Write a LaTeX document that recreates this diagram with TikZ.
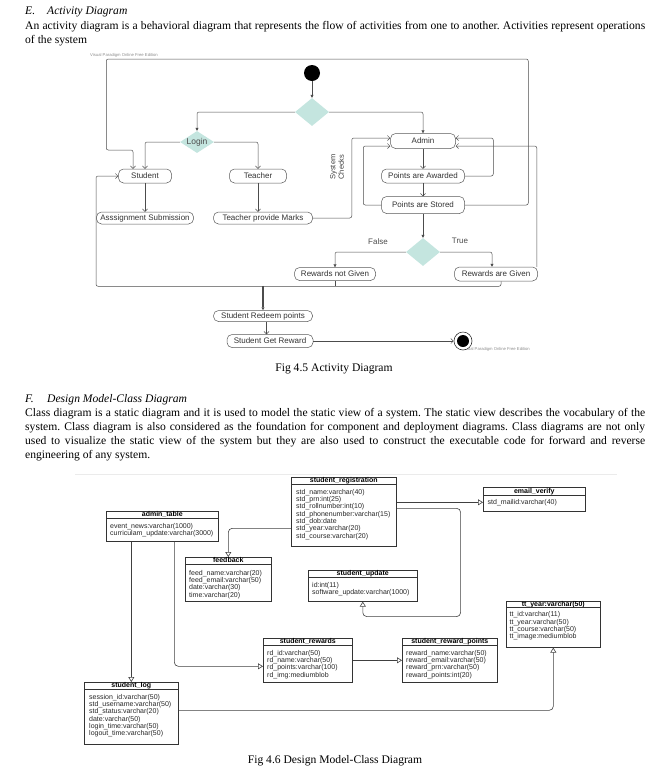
\documentclass[tikz,border=0pt]{standalone}
\usepackage{fontspec}
\setmainfont{Liberation Serif}
\newfontfamily\arial{Liberation Sans}
\usetikzlibrary{arrows.meta,shapes.geometric}
\definecolor{vpteal}{HTML}{C4E5DF}
\frenchspacing
\begin{document}
\begin{tikzpicture}[x=1pt, y=-1pt,
  body/.style={font=\fontsize{11.6}{14}\selectfont, inner sep=0pt, anchor=base west},
  watermark/.style={font=\arial\fontsize{4.2}{5}\selectfont, text=black!45, inner sep=0pt, anchor=west},
  act/.style={draw=black!65, rounded corners=5pt, line width=0.5pt, fill=white, inner sep=0pt, font=\arial\fontsize{8}{9}\selectfont, text=black!80},
  decision/.style={shape=diamond, draw=none, fill=vpteal, inner sep=0pt},
  flow/.style={draw=black!70, line width=0.5pt, rounded corners=2pt},
  oa/.style={flow, -{Straight Barb[length=2.5pt,width=5pt]}},
  fa/.style={flow, -{Triangle[length=3pt,width=3pt]}},
  cls/.style={draw=black!80, line width=0.6pt, inner sep=0pt},
  clsname/.style={font=\arial\bfseries\fontsize{7}{7.3}\selectfont, inner sep=0pt, anchor=base},
  clsattr/.style={font=\arial\fontsize{7}{7.3}\selectfont, align=left, inner sep=0pt, text=black!85, anchor=north west},
  gen/.style={draw=black!75, line width=0.6pt, rounded corners=4pt, -{Triangle[open, length=5pt, width=6pt]}}]
\useasboundingbox (0,0) rectangle (659,772);
%%%%%%%%%%%%%%%%%%%%%%%%%%%%%%%%%%%%%%%%%%% page text
\node[body] (headE) at (25,14) {\textit{\makebox[22pt][l]{E.}Activity Diagram}};
\node[body] (paraE1) at (25,29) {\makebox[620pt][s]{An activity diagram is a behavioral diagram that represents the flow of activities from one to another. Activities represent operations}};
\node[body] (paraE2) at (25,43) {of the system};
\node[body, anchor=base] (capE) at (334,371) {Fig 4.5 Activity Diagram};
\node[body] (headF) at (25,402) {\textit{\makebox[22pt][l]{F.}Design Model-Class Diagram}};
\node[body] (paraF1) at (25,416) {\makebox[620pt][s]{Class diagram is a static diagram and it is used to model the static view of a system. The static view describes the vocabulary of the}};
\node[body] (paraF2) at (25,430) {\makebox[620pt][s]{system. Class diagram is also considered as the foundation for component and deployment diagrams. Class diagrams are not only}};
\node[body] (paraF3) at (25,444) {\makebox[620pt][s]{used to visualize the static view of the system but they are also used to construct the executable code for forward and reverse}};
\node[body] (paraF4) at (25,458) {engineering of any system.};
\node[body, anchor=base] (capF) at (335,763) {Fig 4.6 Design Model-Class Diagram};

%%%%%%%%%%%%%%%%%%%%%%%%%%%%%%%%%%%%%%%%%%% activity diagram
\node[watermark] (wmTop) at (90,55) {Visual Paradigm Online Free Edition};
\node[watermark] (wmBottom) at (462,349) {Visual Paradigm Online Free Edition};
\node[circle, fill=black, minimum size=16pt, inner sep=0pt] (start) at (312,73) {};
\node[decision, minimum width=34pt, minimum height=28pt] (fork) at (312,112) {};
\node[decision, aspect=1.55, minimum width=34pt, minimum height=22pt, font=\arial\fontsize{8.5}{9}\selectfont, text=black!70] (login) at (197,142) {Login};
\node[act, minimum width=53pt, minimum height=14pt] (student) at (145,176) {Student};
\node[act, minimum width=57pt, minimum height=14pt] (teacher) at (258,176) {Teacher};
\node[act, minimum width=97pt, minimum height=12pt] (assign) at (145,218) {Asssignment Submission};
\node[act, minimum width=99pt, minimum height=12pt] (marks) at (263,218) {Teacher provide Marks};
\node[font=\arial\fontsize{7.5}{8.5}\selectfont, text=black!75, align=center, rotate=90, inner sep=0pt] (sysCheck) at (337,167) {System\\Checks};
\node[act, minimum width=65pt, minimum height=15pt] (admin) at (423,141) {Admin};
\node[act, minimum width=83pt, minimum height=14pt] (awarded) at (423,176) {Points are Awarded};
\node[act, minimum width=83pt, minimum height=17pt] (stored) at (423,205) {Points are Stored};
\node[decision, minimum width=34pt, minimum height=28pt] (check) at (423,252) {};
\node[font=\arial\fontsize{8}{9}\selectfont, text=black!70, inner sep=0pt] (lFalse) at (378,242) {False};
\node[font=\arial\fontsize{8}{9}\selectfont, text=black!70, inner sep=0pt] (lTrue) at (460,241) {True};
\node[act, minimum width=81pt, minimum height=13pt] (notgiven) at (335,274) {Rewards not Given};
\node[act, minimum width=83pt, minimum height=14pt] (given) at (496,274) {Rewards are Given};
\node[act, minimum width=99pt, minimum height=11pt] (redeem) at (263,316) {Student Redeem points};
\node[act, minimum width=86pt, minimum height=13pt] (getrew) at (270,341) {Student Get Reward};
\node[circle, draw=black!80, line width=0.6pt, fill=white, minimum size=18pt, inner sep=0pt] (final) at (463,341) {};
\node[circle, fill=black, minimum size=12pt, inner sep=0pt] (finalDot) at (final) {};

\draw[fa] (start) -- (fork);
\draw[fa] (fork.west) -| (login.north);
\draw[fa] (fork.east) -| (admin.north);
\draw[oa] (login.west) -| (student.north);
\draw[oa] (login.east) -| (teacher.north);
\draw[oa] (student) -- (assign);
\draw[oa] (teacher.south) -- (teacher.south |- marks.north);
\draw[oa] (marks.east) -- ++(39,0) |- ([yshift=3pt]admin.west);
\draw[oa] (admin) -- (awarded);
\draw[oa] (awarded) -- (stored);
\draw[oa] (awarded.east) -- ++(28.5,0) |- ([yshift=3pt]admin.east);
\draw[oa] (stored.west) -- ++(-18,0) |- ([yshift=-5pt]admin.west);
\draw[oa] (stored.east) -- ++(63.5,0) -- ++(0,-146) -- ++(-422,0) -- ++(0,91) -| ([xshift=-12pt]student.north);
\draw[fa] (stored) -- (check);
\draw[fa] (check.west) -| (notgiven.north);
\draw[fa] (check.east) -| ([xshift=-4pt]given.north);
\draw[oa] ([xshift=-1pt]given.north east) |- ([yshift=-5pt]admin.east);
\draw[oa] ([xshift=5pt]given.south) -- ++(0,5) -- ++(-405,0) |- (student.west);
\draw[flow] (notgiven.south) -- ++(0,5.5);
\draw[fa, line width=1.1pt] (redeem.north) ++(0,-24.5) -- (redeem.north);
\draw[oa] ([xshift=3.5pt]redeem.south) -- ([xshift=3.5pt]redeem.south |- getrew.north);
\draw[oa] (getrew) -- (final);

%%%%%%%%%%%%%%%%%%%%%%%%%%%%%%%%%%%%%%%%%%% class diagram
\draw[black!8] (75,474) -- (617,474);
% student_registration
\node[cls, minimum width=105pt, minimum height=69pt, anchor=north west] (reg) at (291,477) {};
\node[clsname] (regName) at ([yshift=-5.5pt]reg.north) {student\_registration};
\draw[cls] ([yshift=-7pt]reg.north west) -- ([yshift=-7pt]reg.north east);
\node[clsattr] (regAttr) at ([xshift=5pt,yshift=-12pt]reg.north west) {std\_name:varchar(40)\\std\_prn:int(25)\\std\_rollnumber:int(10)\\std\_phonenumber:varchar(15)\\std\_dob:date\\std\_year:varchar(20)\\std\_course:varchar(20)};
% email_verify
\node[cls, minimum width=102pt, minimum height=24pt, anchor=north west] (email) at (483,487) {};
\node[clsname] (emailName) at ([yshift=-6pt]email.north) {email\_verify};
\draw[cls] ([yshift=-8pt]email.north west) -- ([yshift=-8pt]email.north east);
\node[clsattr] (emailAttr) at ([xshift=4.5pt,yshift=-12pt]email.north west) {std\_mailid:varchar(40)};
% admin_table
\node[cls, minimum width=112pt, minimum height=30pt, anchor=north west] (admintab) at (106,511) {};
\node[clsname] (admintabName) at ([yshift=-5.5pt]admintab.north) {admin\_table};
\draw[cls] ([yshift=-7pt]admintab.north west) -- ([yshift=-7pt]admintab.north east);
\node[clsattr] (admintabAttr) at ([xshift=4pt,yshift=-12pt]admintab.north west) {event\_news:varchar(1000)\\curriculam\_update:varchar(3000)};
% feedback
\node[cls, minimum width=86pt, minimum height=44pt, anchor=north west] (feed) at (185,557) {};
\node[clsname] (feedName) at ([yshift=-5.5pt]feed.north) {feedback};
\draw[cls] ([yshift=-7pt]feed.north west) -- ([yshift=-7pt]feed.north east);
\node[clsattr] (feedAttr) at ([xshift=4pt,yshift=-13pt]feed.north west) {feed\_name:varchar(20)\\feed\_email:varchar(50)\\date:varchar(30)\\time:varchar(20)};
% student_update
\node[cls, minimum width=109pt, minimum height=31pt, anchor=north west] (upd) at (308,570) {};
\node[clsname] (updName) at ([yshift=-5.5pt]upd.north) {student\_update};
\draw[cls] ([yshift=-7pt]upd.north west) -- ([yshift=-7pt]upd.north east);
\node[clsattr] (updAttr) at ([xshift=4pt,yshift=-12pt]upd.north west) {id:int(11)\\software\_update:varchar(1000)};
% tt_year
\node[cls, minimum width=94pt, minimum height=46pt, anchor=north west] (tty) at (506,601) {};
\node[clsname] (ttyName) at ([yshift=-5pt]tty.north) {tt\_year:varchar(50)};
\draw[cls] ([yshift=-6pt]tty.north west) -- ([yshift=-6pt]tty.north east);
\node[clsattr] (ttyAttr) at ([xshift=3.5pt,yshift=-10.5pt]tty.north west) {tt\_id:varchar(11)\\tt\_year:varchar(50)\\tt\_course:varchar(50)\\tt\_image:mediumblob};
% student_rewards
\node[cls, minimum width=89pt, minimum height=44pt, anchor=north west] (rew) at (263,638) {};
\node[clsname] (rewName) at ([yshift=-5.5pt]rew.north) {student\_rewards};
\draw[cls] ([yshift=-7pt]rew.north west) -- ([yshift=-7pt]rew.north east);
\node[clsattr] (rewAttr) at ([xshift=4pt,yshift=-12pt]rew.north west) {rd\_id:varchar(50)\\rd\_name:varchar(50)\\rd\_points:varchar(100)\\rd\_img:mediumblob};
% student_reward_points
\node[cls, minimum width=95pt, minimum height=44pt, anchor=north west] (pts) at (402,638) {};
\node[clsname] (ptsName) at ([yshift=-5.5pt]pts.north) {student\_reward\_points};
\draw[cls] ([yshift=-7pt]pts.north west) -- ([yshift=-7pt]pts.north east);
\node[clsattr] (ptsAttr) at ([xshift=4pt,yshift=-12pt]pts.north west) {reward\_name:varchar(50)\\reward\_email:varchar(50)\\reward\_prn:varchar(50)\\reward\_points:int(20)};
% student_log
\node[cls, minimum width=94pt, minimum height=62pt, anchor=north west] (slog) at (84,682) {};
\node[clsname] (slogName) at ([yshift=-5.5pt]slog.north) {student\_log};
\draw[cls] ([yshift=-7pt]slog.north west) -- ([yshift=-7pt]slog.north east);
\node[clsattr] (slogAttr) at ([xshift=5pt,yshift=-12pt]slog.north west) {session\_id:varchar(50)\\std\_username:varchar(50)\\std\_status:varchar(20)\\date:varchar(50)\\login\_time:varchar(50)\\logout\_time:varchar(50)};

%%%%% associations
\draw[gen] ([yshift=9.5pt]reg.east) -- ([yshift=-3pt]email.west);
\draw[gen] ([yshift=3.5pt]reg.east) -- ++(64,0) |- ([yshift=-15pt]upd.south) -- (upd.south);
\draw[gen] ([yshift=-16.5pt]reg.west) -| (feed.north);
\draw[gen] ([xshift=12pt]admintab.south) |- ([yshift=-6pt]rew.west);
\draw[gen] (admintab.south -| slog.north) -- (slog.north);
\draw[gen] (rew) -- (pts);
\draw[gen] ([yshift=3pt]slog.east) -| (tty.south);
\end{tikzpicture}
\end{document}
